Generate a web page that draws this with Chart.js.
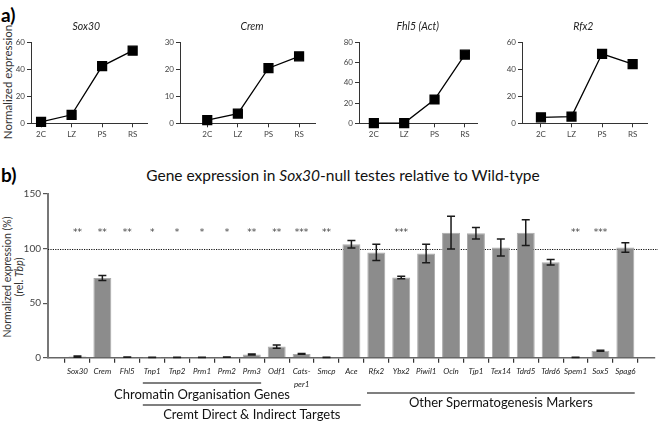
<!DOCTYPE html>
<html>
<head>
<meta charset="utf-8">
<script src="https://cdn.jsdelivr.net/npm/chart.js@4.4.0/dist/chart.umd.min.js"></script>
<style>
  body { margin: 0; width: 660px; height: 421px; background: #fff; position: relative; overflow: hidden; font-family: Lato, sans-serif; }
  canvas { position: absolute; }
  .panel { position: absolute; font-weight: bold; font-size: 19px; color: #000; line-height: 20px; }
  .rot { position: absolute; text-align: center; transform: rotate(-90deg); color: #333; white-space: nowrap; }
</style>
</head>
<body>
<div class="panel" style="left:1px;top:5px">a)</div>
<div class="panel" style="left:1px;top:165px">b)</div>
<div class="rot" style="left:-52px;top:75px;width:120px;height:14px;font-size:11.5px;line-height:14px">Normalized expression</div>
<div class="rot" style="left:-52px;top:265px;width:130px;height:24px;font-size:10.5px;line-height:12px">Normalized expression (%)<br>(rel. <i>Tbp</i>)</div>
<div id="title" style="position:absolute;left:0;width:686px;top:166px;text-align:center;font-size:15.5px;color:#111">Gene expression in <i>Sox30</i>-null testes relative to Wild-type</div>

<canvas id="c1"></canvas>
<canvas id="c2"></canvas>
<canvas id="c3"></canvas>
<canvas id="c4"></canvas>
<canvas id="c5"></canvas>

<script>
// panel a) - expression across stages
var stages = ["2C", "LZ", "PS", "RS"];
var sox30Stage = [1.0, 6.3, 42.4, 53.8];
var cremStage = [1.2, 3.6, 20.4, 24.8];
var fhl5Stage = [0.2, 0.2, 23.5, 67.8];
var rfx2Stage = [4.4, 5.0, 51.5, 43.8];
var stageTitles = ["Sox30", "Crem", "Fhl5 (Act)", "Rfx2"];
var stageMax = [60, 30, 80, 60];
var stageStep = [20, 10, 20, 20];

// panel b) - knockout vs wild-type
var genes = ["Sox30", "Crem", "Fhl5", "Tnp1", "Tnp2", "Prm1", "Prm2", "Prm3", "Odf1", ["Cats-", "per1"], "Smcp",
  "Ace", "Rfx2", "Ybx2", "Piwil1", "Ocln", "Tjp1", "Tex14", "Tdrd5", "Tdrd6", "Spem1", "Sox5", "Spag6"];
var relExpr = [1.0, 73, 0.5, 0.2, 0.3, 0.3, 0.5, 3.0, 10.2, 3.5, 0.3,
  104, 96.5, 73.5, 95.5, 114.5, 114, 101, 114.5, 87.5, 0.3, 6.4, 101];
var relErr = [0.5, 2.3, 0.2, 0.1, 0.1, 0.1, 0.2, 0.5, 1.5, 0.4, 0.1,
  3.5, 7.5, 1.2, 8.5, 15, 5.2, 7.8, 11.8, 2.5, 0.1, 0.5, 4.3];
var signif = ["**", "**", "**", "*", "*", "*", "*", "**", "**", "***", "**",
  "", "", "***", "", "", "", "", "", "", "**", "***", ""];
var groupNames = ["Chromatin Organisation Genes", "Cremt Direct & Indirect Targets", "Other Spermatogenesis Markers"];
var groupFrom = [3, 3, 12];
var groupTo = [7, 11, 22];

// layout of the four small charts (page px)
var smallLayout = [
  { axisX: 30.7, axisEnd: 146.7, min: -0.33, max: 3.47, titleX: 86 },
  { axisX: 180, axisEnd: 315, min: -0.89, max: 3.52, titleX: 252 },
  { axisX: 359.3, axisEnd: 478, min: -0.49, max: 3.4, titleX: 418 },
  { axisX: 521.7, axisEnd: 646.7, min: -0.62, max: 3.47, titleX: 583 }
];

const panelTitle = {
  id: 'panelTitle',
  afterDraw(chart, args, opts) {
    const ctx = chart.ctx;
    ctx.save();
    ctx.font = 'italic 10.5px Lato';
    ctx.fillStyle = '#222';
    ctx.textAlign = 'center';
    ctx.textBaseline = 'middle';
    ctx.fillText(opts.text, opts.x, 7);
    ctx.restore();
  }
};

function smallChart(id, values, idx) {
  var lay = smallLayout[idx];
  var cv = document.getElementById(id);
  var left = lay.axisX - 28;
  cv.width = lay.axisEnd - left + 8;
  cv.height = 125;
  cv.style.left = left + 'px';
  cv.style.top = '20px';
  new Chart(cv, {
    type: 'line',
    data: {
      datasets: [{
        data: values.map((v, i) => ({ x: i, y: v })),
        borderColor: '#000',
        borderWidth: 1.3,
        pointStyle: 'rect',
        pointRadius: 6.3,
        pointBackgroundColor: '#000',
        pointBorderColor: '#000',
        clip: false
      }]
    },
    options: {
      responsive: false,
      animation: false,
      devicePixelRatio: 1,
      layout: { padding: { top: 22.3, right: 8, left: 0, bottom: 0 } },
      plugins: {
        legend: { display: false },
        tooltip: { enabled: false },
        panelTitle: { text: stageTitles[idx], x: lay.titleX - left }
      },
      scales: {
        x: {
          type: 'linear',
          min: lay.min, max: lay.max,
          afterBuildTicks: s => { s.ticks = stages.map((t, i) => ({ value: i })); },
          afterFit: s => { s.height = 21.7; },
          ticks: { callback: v => stages[v], font: { family: 'Lato', size: 8 }, color: '#444', padding: 2, maxRotation: 0 },
          grid: { drawOnChartArea: false, tickLength: 4, color: '#333' },
          border: { color: '#333', width: 1 }
        },
        y: {
          min: 0, max: stageMax[idx],
          afterFit: s => { s.width = 28; },
          ticks: { stepSize: stageStep[idx], font: { family: 'Lato', size: 8 }, color: '#444', padding: 2 },
          grid: { drawOnChartArea: false, tickLength: 4, color: '#333' },
          border: { color: '#333', width: 1 }
        }
      }
    },
    plugins: [panelTitle]
  });
}

smallChart('c1', sox30Stage, 0);
smallChart('c2', cremStage, 1);
smallChart('c3', fhl5Stage, 2);
smallChart('c4', rfx2Stage, 3);

// bottom chart decorations
const koDeco = {
  id: 'koDeco',
  beforeDatasetsDraw(chart) {
    const { ctx, scales: { x, y } } = chart;
    const yy = Math.round(y.getPixelForValue(100)) + 0.5;
    ctx.save();
    ctx.strokeStyle = '#111';
    ctx.lineWidth = 1;
    ctx.setLineDash([1.2, 1.2]);
    ctx.beginPath();
    ctx.moveTo(x.left, yy);
    ctx.lineTo(658, yy);
    ctx.stroke();
    ctx.restore();
  },
  afterDatasetsDraw(chart) {
    const { ctx, scales: { x, y } } = chart;
    ctx.save();
    // error bars
    ctx.strokeStyle = '#1a1a1a';
    ctx.lineWidth = 1.5;
    relExpr.forEach((v, i) => {
      const cx = x.getPixelForValue(i);
      const t = y.getPixelForValue(v + relErr[i]);
      const b = y.getPixelForValue(Math.max(0, v - relErr[i]));
      ctx.beginPath();
      ctx.moveTo(cx, t); ctx.lineTo(cx, b);
      ctx.moveTo(cx - 4, t); ctx.lineTo(cx + 4, t);
      ctx.moveTo(cx - 4, b); ctx.lineTo(cx + 4, b);
      ctx.stroke();
    });
    // significance stars
    ctx.fillStyle = '#444';
    ctx.font = '9px "DejaVu Sans"';
    ctx.textAlign = 'center';
    ctx.textBaseline = 'middle';
    const sy = y.getPixelForValue(116.5) + 2;
    signif.forEach((s, i) => {
      if (s) ctx.fillText(s, x.getPixelForValue(i), sy);
    });
    // group brackets
    const barHalf = 9.35;
    const lineY = [198, 220, 208];
    const textY = [209.5, 229.5, 217.5];
    ctx.strokeStyle = '#555';
    ctx.lineWidth = 1.5;
    ctx.fillStyle = '#111';
    ctx.font = '13px Lato';
    groupNames.forEach((g, k) => {
      const x1 = x.getPixelForValue(groupFrom[k]) - barHalf;
      const x2 = x.getPixelForValue(groupTo[k]) + barHalf;
      ctx.beginPath();
      ctx.moveTo(x1, lineY[k]); ctx.lineTo(x2, lineY[k]);
      ctx.stroke();
      ctx.fillText(g, (x1 + x2) / 2, textY[k]);
    });
    ctx.restore();
  }
};

var cv5 = document.getElementById('c5');
cv5.width = 660;
cv5.height = 236;
cv5.style.left = '0px';
cv5.style.top = '185px';
new Chart(cv5, {
  type: 'bar',
  data: {
    datasets: [{
      data: relExpr.map((v, i) => ({ x: i, y: v })),
      backgroundColor: '#8c8c8c',
      borderColor: '#aaaaaa',
      borderWidth: 1,
      categoryPercentage: 1,
      barPercentage: 0.72
    }]
  },
  options: {
    responsive: false,
    animation: false,
    devicePixelRatio: 1,
    layout: { padding: { top: 9, right: 5, left: 0, bottom: 0 } },
    plugins: { legend: { display: false }, tooltip: { enabled: false } },
    scales: {
      x: {
        type: 'linear',
        min: -0.653, max: 22.66,
        afterBuildTicks: s => { s.ticks = genes.map((g, i) => ({ value: i })); },
        afterFit: s => { s.height = 63.3; },
        ticks: {
          callback: v => genes[v],
          autoSkip: false, maxRotation: 0,
          font: { family: 'Lato', size: 8, style: 'italic', lineHeight: 1.55 },
          color: '#222', padding: 3
        },
        grid: { drawOnChartArea: false, tickLength: 5, color: '#333', lineWidth: 1.2 },
        border: { color: '#666', width: 1.5 }
      },
      y: {
        min: 0, max: 150,
        afterFit: s => { s.width = 48; },
        ticks: { stepSize: 50, font: { family: 'Lato', size: 10 }, color: '#444', padding: 2 },
        grid: { drawOnChartArea: false, tickLength: 5, color: '#555', lineWidth: 1.2 },
        border: { color: '#777', width: 2 }
      }
    }
  },
  plugins: [koDeco]
});
</script>
</body>
</html>
